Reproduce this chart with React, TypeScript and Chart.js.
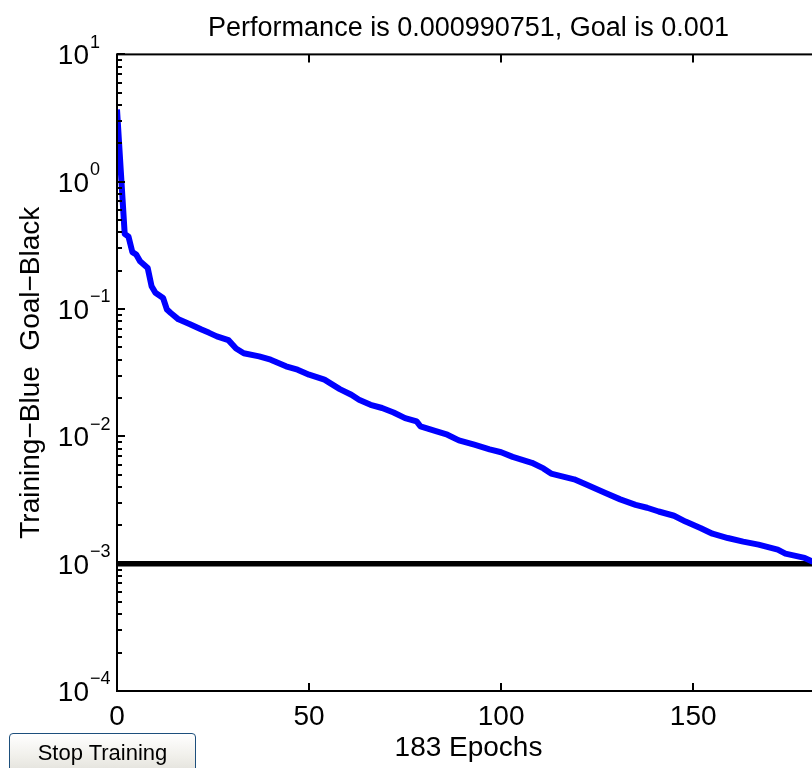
import React, { useEffect, useRef } from "react";
import { Chart, registerables } from "chart.js";

Chart.register(...registerables);

const epochs = [
  0, 1, 2, 3, 4, 5, 6, 8, 9, 10,
  12, 13, 14, 16, 19, 22, 24, 26, 29, 31,
  33, 37, 40, 44, 47, 50, 54, 58, 61, 63,
  66, 69, 72, 75, 78, 79, 83, 86, 89, 93,
  97, 100, 103, 108, 111, 113, 119, 122, 127, 131,
  135, 138, 141, 145, 148, 152, 155, 159, 163, 167,
  172, 174, 179, 181, 183,
];
const trainingPerf = [
  3.7, 1.2, 0.39, 0.37, 0.28, 0.268, 0.237, 0.21, 0.151, 0.134,
  0.122, 0.099, 0.093, 0.083, 0.076, 0.069, 0.065, 0.061, 0.057, 0.049,
  0.045, 0.0425, 0.04, 0.0355, 0.0334, 0.0305, 0.0279, 0.0235, 0.0212, 0.0194,
  0.0177, 0.0167, 0.0154, 0.0139, 0.0131, 0.012, 0.011, 0.0103, 0.0093, 0.0086,
  0.0079, 0.0075, 0.0069, 0.0062, 0.0056, 0.0051, 0.0046, 0.0042, 0.0036, 0.0032,
  0.0029, 0.00275, 0.00257, 0.00238, 0.00214, 0.0019, 0.00172, 0.00159, 0.00149, 0.00141,
  0.00129, 0.0012, 0.00111, 0.00104, 0.000990751,
];
const goalEpochs = [0, 183];
const goalValues = [0.001, 0.001];
const xTicks = [0, 50, 100, 150];
const yDecadeExponents = [1, 0, -1, -2, -3, -4];
const yMinorMultipliers = [2, 3, 4, 5, 6, 7, 8, 9];
const titleText = "Performance is 0.000990751, Goal is 0.001";
const xLabel = "183 Epochs";
const yLabel = "Training\u2212Blue  Goal\u2212Black";
const buttonLabel = "Stop Training";

const FONT = '"Liberation Sans", Arial, Helvetica, sans-serif';

const matlabAxes = {
  id: "matlabAxes",
  afterDatasetsDraw(chart: any) {
    const { ctx, chartArea: a, scales } = chart;
    const x = scales.x;
    const y = scales.y;
    ctx.save();
    ctx.strokeStyle = "#000";
    ctx.lineWidth = 2;
    ctx.strokeRect(a.left, a.top, a.right - a.left, a.bottom - a.top);
    const seg = (x1: number, y1: number, x2: number, y2: number) => {
      ctx.beginPath();
      ctx.moveTo(x1, y1);
      ctx.lineTo(x2, y2);
      ctx.stroke();
    };
    ctx.lineWidth = 2;
    const minE = Math.min(...yDecadeExponents);
    for (const e of yDecadeExponents) {
      const py = Math.round(y.getPixelForValue(Math.pow(10, e)));
      seg(a.left, py, a.left + 8, py);
      seg(a.right, py, a.right - 8, py);
      if (e > minE) {
        for (const m of yMinorMultipliers) {
          const v = m * Math.pow(10, e - 1);
          const pm = Math.round(y.getPixelForValue(v));
          seg(a.left, pm, a.left + 5, pm);
          seg(a.right, pm, a.right - 5, pm);
        }
      }
    }
    for (const v of xTicks) {
      const px = Math.round(x.getPixelForValue(v));
      seg(px, a.bottom, px, a.bottom - 8);
      seg(px, a.top, px, a.top + 8);
    }
    ctx.restore();
  },
  afterDraw(chart: any) {
    const { ctx, scales } = chart;
    const y = scales.y;
    ctx.save();
    ctx.fillStyle = "#000";
    for (const e of yDecadeExponents) {
      const py = y.getPixelForValue(Math.pow(10, e));
      ctx.font = `28px ${FONT}`;
      ctx.textAlign = "right";
      ctx.textBaseline = "alphabetic";
      ctx.fillText("10", 89, py + 10);
      ctx.font = `18px ${FONT}`;
      ctx.textAlign = "left";
      const expStr = e < 0 ? "\u2212" + Math.abs(e) : String(e);
      ctx.fillText(expStr, 90, py - 13 + 6.4);
    }
    ctx.restore();
  },
};

export default function App() {
  const ref = useRef<HTMLCanvasElement>(null);
  useEffect(() => {
    Chart.defaults.font.family = FONT;
    const chart = new Chart(ref.current as HTMLCanvasElement, {
      type: "line",
      data: {
        datasets: [
          {
            label: "Training",
            data: epochs.map((e, i) => ({ x: e, y: trainingPerf[i] })),
            borderColor: "#0000ff",
            borderWidth: 6,
            pointRadius: 0,
            tension: 0,
            clip: 0,
            borderJoinStyle: "round",
          },
          {
            label: "Goal",
            data: goalEpochs.map((e, i) => ({ x: e, y: goalValues[i] })),
            borderColor: "#000000",
            borderWidth: 5.5,
            pointRadius: 0,
            clip: 0,
          },
        ],
      } as any,
      options: {
        animation: false,
        responsive: false,
        devicePixelRatio: 1,
        layout: { padding: { left: 0, right: 10, top: 0, bottom: 0 } },
        plugins: {
          legend: { display: false },
          tooltip: { enabled: false },
          title: {
            display: true,
            text: titleText,
            fullSize: false,
            color: "#000",
            font: { size: 27, weight: "normal", family: FONT },
            padding: { top: 12, bottom: 10 },
          },
        },
        scales: {
          x: {
            type: "linear",
            min: 0,
            max: 183,
            grid: { display: false, drawTicks: false },
            border: { display: false },
            afterBuildTicks: (s: any) => {
              s.ticks = xTicks.map((v) => ({ value: v }));
            },
            ticks: {
              color: "#000",
              font: { size: 28, family: FONT },
              padding: 9,
              maxRotation: 0,
              autoSkip: false,
            },
            title: {
              display: true,
              text: xLabel,
              color: "#000",
              font: { size: 28, family: FONT },
              padding: { top: 0, bottom: 3 },
            },
            afterFit: (s: any) => {
              s.height = 77;
            },
          },
          y: {
            type: "logarithmic",
            min: 1e-4,
            max: 10,
            grid: { display: false, drawTicks: false },
            border: { display: false },
            ticks: { display: false },
            title: {
              display: true,
              text: yLabel,
              color: "#000",
              font: { size: 28, family: FONT },
              padding: { top: 14, bottom: 0 },
            },
            afterFit: (s: any) => {
              s.width = 117;
            },
          },
        },
      } as any,
      plugins: [matlabAxes],
    });
    return () => chart.destroy();
  }, []);

  return (
    <div
      style={{
        position: "absolute",
        left: 0,
        top: 0,
        width: 812,
        height: 768,
        overflow: "hidden",
        background: "#fff",
      }}
    >
      <canvas
        ref={ref}
        width={830}
        height={768}
        style={{ display: "block", width: 830, height: 768 }}
      />
      <div
        style={{
          position: "absolute",
          left: 9,
          top: 733,
          width: 187,
          height: 40,
          boxSizing: "border-box",
          border: "1px solid #1d4f7c",
          borderRadius: 4,
          background: "linear-gradient(#ffffff, #f0efea 60%, #e3e2dc)",
          fontFamily: FONT,
          fontSize: 22,
          color: "#000",
          textAlign: "center",
          paddingTop: 6,
        }}
      >
        {buttonLabel}
      </div>
    </div>
  );
}
